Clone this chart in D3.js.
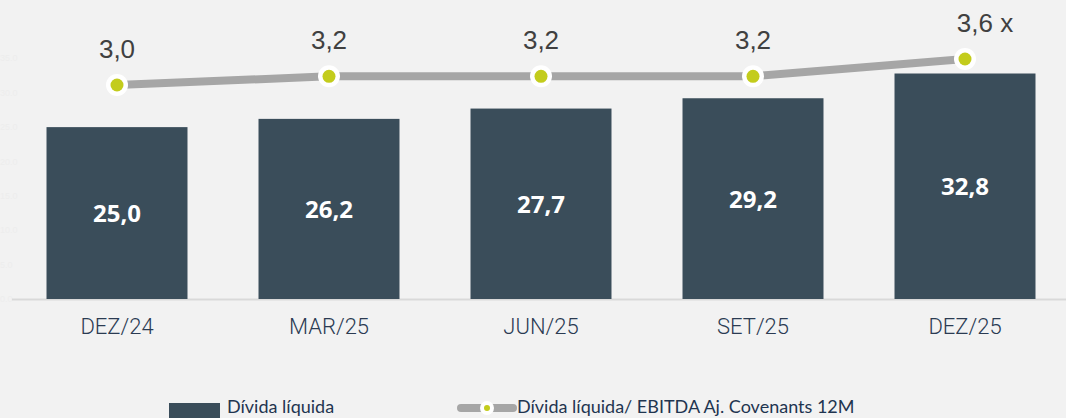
<!DOCTYPE html>
<html>
<head>
<meta charset="utf-8">
<script src="https://cdn.jsdelivr.net/npm/d3@7"></script>
<style>
  body { margin: 0; background: #f2f2f2; }
  svg { display: block; }
</style>
</head>
<body>
<div id="chart"></div>
<script>
// chart data
var periods = ["DEZ/24", "MAR/25", "JUN/25", "SET/25", "DEZ/25"];
var divida = [25.0, 26.2, 27.7, 29.2, 32.8];          // R$ bi
var alavancagem = [3.0, 3.2, 3.2, 3.2, 3.6];          // x
var yTicks = [0, 5, 10, 15, 20, 25, 30, 35];

var w = 1066,
    h = 418;

var svg = d3.select("#chart")
    .append("svg")
    .attr("width", w)
    .attr("height", h);

var fmt = function (v) { return v.toFixed(1).replace(".", ","); };

var x = d3.scaleBand()
    .domain(periods)
    .range([11, 1071])
    .paddingInner(0.335)
    .paddingOuter(0.1675);

var y = d3.scaleLinear()   // bars
    .domain([0, 40])
    .range([299, 24]);

var y2 = d3.scaleLinear()  // line
    .domain([3.0, 3.6])
    .range([85, 59]);

// faint y ticks on the left (barely visible in the original)
svg.append("g")
    .selectAll("text")
    .data(yTicks)
    .enter()
    .append("text")
    .attr("x", 0)
    .attr("y", function (d) { return y(d) + 3; })
    .attr("font-family", "Liberation Sans, sans-serif")
    .attr("font-size", 9)
    .attr("fill", "#ededed")
    .text(function (d) { return d.toFixed(1); });

// baseline
svg.append("line")
    .attr("x1", 12)
    .attr("x2", w)
    .attr("y1", y(0) + 0.5)
    .attr("y2", y(0) + 0.5)
    .attr("stroke", "#d9d9d9")
    .attr("stroke-width", 2);

// bars
var bars = svg.selectAll("g.bar")
    .data(periods)
    .enter()
    .append("g")
    .attr("class", "bar");

bars.append("rect")
    .attr("x", function (d) { return x(d); })
    .attr("y", function (d, i) { return y(divida[i]); })
    .attr("width", x.bandwidth())
    .attr("height", function (d, i) { return y(0) - y(divida[i]); })
    .attr("fill", "#3a4d5a");

bars.append("text")
    .attr("x", function (d) { return x(d) + x.bandwidth() / 2; })
    .attr("y", function (d, i) { return (y(divida[i]) + y(0)) / 2 + 9; })
    .attr("text-anchor", "middle")
    .attr("font-family", "Open Sans, sans-serif")
    .attr("font-weight", "bold")
    .attr("font-size", 24)
    .attr("fill", "#ffffff")
    .text(function (d, i) { return fmt(divida[i]); });

// x axis labels
var xAxis = d3.axisBottom(x).tickSize(0).tickPadding(0);
var gx = svg.append("g")
    .attr("transform", "translate(0," + 322 + ")")
    .call(xAxis);
gx.select(".domain").remove();
gx.selectAll("text")
    .attr("dy", "0.55em")
    .attr("font-family", "Roboto, sans-serif")
    .attr("font-weight", 300)
    .attr("font-size", 22)
    .attr("fill", "#2b3b52");

// leverage line
var cx = function (d, i) { return x(periods[i]) + x.bandwidth() / 2; };
var line = d3.line()
    .x(cx)
    .y(function (d) { return y2(d); });

svg.append("path")
    .datum(alavancagem)
    .attr("d", line)
    .attr("fill", "none")
    .attr("stroke", "#a6a6a6")
    .attr("stroke-width", 8);

var pts = svg.selectAll("g.pt")
    .data(alavancagem)
    .enter()
    .append("g")
    .attr("class", "pt");

pts.append("circle")
    .attr("cx", cx)
    .attr("cy", function (d) { return y2(d); })
    .attr("r", 11)
    .attr("fill", "#ffffff");

pts.append("circle")
    .attr("cx", cx)
    .attr("cy", function (d) { return y2(d); })
    .attr("r", 6.5)
    .attr("fill", "#c3cc1c");

pts.append("text")
    .attr("x", function (d, i) { return cx(d, i) + (i == alavancagem.length - 1 ? 20 : 0); })
    .attr("y", function (d) { return y2(d) - 27; })
    .attr("text-anchor", "middle")
    .attr("font-family", "Liberation Sans, Arial, sans-serif")
    .attr("font-size", 26)
    .attr("fill", "#404040")
    .text(function (d, i) { return fmt(d) + (i == alavancagem.length - 1 ? " x" : ""); });

// legend
var legend = svg.append("g");

legend.append("rect")
    .attr("x", 169)
    .attr("y", 403)
    .attr("width", 51)
    .attr("height", 15)
    .attr("fill", "#3a4d5a");

legend.append("text")
    .attr("x", 227)
    .attr("y", 413)
    .attr("font-family", "Lato, sans-serif")
    .attr("font-size", 18)
    .attr("fill", "#1f3550")
    .text("Dívida líquida");

legend.append("line")
    .attr("x1", 461)
    .attr("x2", 513)
    .attr("y1", 408)
    .attr("y2", 408)
    .attr("stroke", "#a6a6a6")
    .attr("stroke-width", 8)
    .attr("stroke-linecap", "round");

legend.append("circle")
    .attr("cx", 487)
    .attr("cy", 408)
    .attr("r", 7)
    .attr("fill", "#ffffff");

legend.append("circle")
    .attr("cx", 487)
    .attr("cy", 408)
    .attr("r", 3)
    .attr("fill", "#c3cc1c");

legend.append("text")
    .attr("x", 517)
    .attr("y", 413)
    .attr("font-family", "Lato, sans-serif")
    .attr("font-size", 18)
    .attr("fill", "#1f3550")
    .text("Dívida líquida/ EBITDA Aj. Covenants 12M");
</script>
</body>
</html>
